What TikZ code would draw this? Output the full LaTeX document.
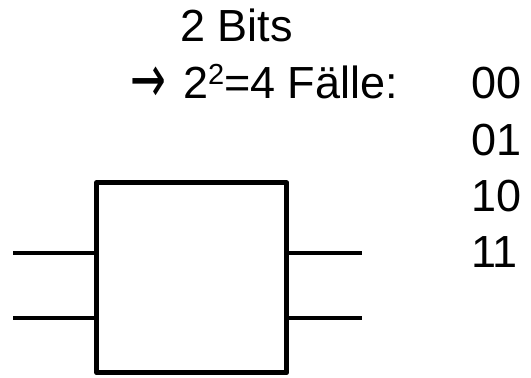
\documentclass[tikz,border=0pt]{standalone}
\usepackage{fontspec}
\usepackage{graphicx}
\setmainfont{Liberation Sans}
\newfontfamily\arrowfont{DejaVu Sans}
\begin{document}
\begin{tikzpicture}[x=1pt,y=1pt,
  lbl/.style={anchor=base west, inner sep=0pt, font=\fontsize{45}{52}\selectfont},
  wire/.style={line width=4.5pt},
  blk/.style={draw, line width=5pt, minimum width=190pt, minimum height=190pt, inner sep=0pt, line join=round}]
\useasboundingbox (0,0) rectangle (531,378);
\node[lbl] (t1) at (180,336) {2 Bits};
\node[lbl] (t2) at (130,279) {\raisebox{-4pt}{\scalebox{0.95}[1.5]{\arrowfont →}}\hspace{17pt}2\raisebox{14pt}{\fontsize{29}{30}\selectfont 2}=4 Fälle:};
\node[lbl] (c1) at (471,279) {00};
\node[lbl] (c2) at (471,222) {01};
\node[lbl] (c3) at (471,166) {10};
\node[lbl] (c4) at (471,110) {11};
\node[blk] (box) at (191.75,100.25) {};
\coordinate (i1) at (13,125);
\coordinate (i2) at (13,60);
\coordinate (o1) at (362,125);
\coordinate (o2) at (362,60);
\draw[wire] (i1) -- (i1 -| box.west);
\draw[wire] (i2) -- (i2 -| box.west);
\draw[wire] (o1 -| box.east) -- (o1);
\draw[wire] (o2 -| box.east) -- (o2);
\end{tikzpicture}
\end{document}
